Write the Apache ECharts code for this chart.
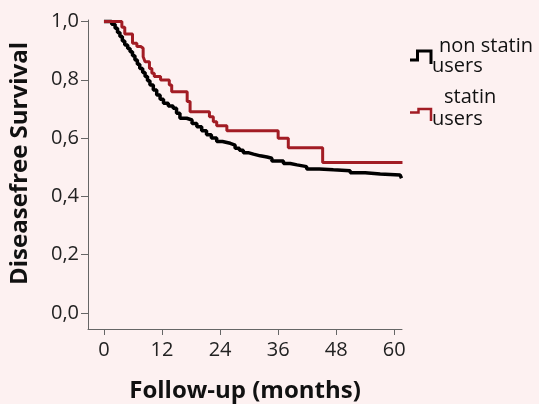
<!DOCTYPE html>
<html>
<head>
<meta charset="utf-8">
<script src="https://cdn.jsdelivr.net/npm/echarts@6/dist/echarts.min.js"></script>
<style>
html,body{margin:0;padding:0;background:#FDF1F1;}
#chart{width:539px;height:404px;}
</style>
</head>
<body>
<div id="chart"></div>
<script>
// Follow-up months tick labels
const xTicks = [0, 12, 24, 36, 48, 60];
const yTicks = [0, 0.2, 0.4, 0.6, 0.8, 1.0];

// Kaplan-Meier: non statin users [month, survival]
const nonStatinMonths = [0, 1.6, 2.3, 2.8, 3.3, 3.8, 4.3, 4.9, 5.4, 5.9, 6.4, 6.9, 7.4, 8.0, 8.5, 9.0, 9.5, 10.2, 10.9, 11.6, 12.3, 13.3, 14.3, 15.0, 15.7, 17.1, 18.2, 19.2, 20.2, 21.2, 22.2, 23.3, 24.5, 26.1, 27.1, 28.0, 28.8, 29.8, 30.9, 32.3, 33.7, 34.7, 37.1, 38.5, 39.9, 41.9, 44.5, 47.4, 50.9, 54.0, 57.1, 61.2, 61.5];
const nonStatinSurv = [1.0, 0.99, 0.977, 0.962, 0.948, 0.933, 0.919, 0.907, 0.896, 0.882, 0.868, 0.853, 0.839, 0.825, 0.811, 0.797, 0.782, 0.765, 0.748, 0.733, 0.719, 0.71, 0.702, 0.685, 0.668, 0.662, 0.65, 0.639, 0.625, 0.611, 0.6, 0.588, 0.582, 0.576, 0.565, 0.558, 0.55, 0.545, 0.539, 0.535, 0.531, 0.521, 0.513, 0.508, 0.502, 0.494, 0.491, 0.488, 0.481, 0.477, 0.473, 0.468, 0.462];

// Kaplan-Meier: statin users [month, survival]
const statinMonths = [0, 3.7, 4.3, 5.9, 6.8, 7.6, 8.1, 8.5, 9.4, 9.9, 10.4, 11.7, 13.5, 14.0, 17.2, 17.8, 21.8, 22.6, 23.3, 25.4, 36.0, 38.1, 45.2, 61.7];
const statinSurv = [1.0, 0.98, 0.957, 0.925, 0.914, 0.908, 0.879, 0.862, 0.839, 0.822, 0.811, 0.799, 0.782, 0.759, 0.725, 0.69, 0.673, 0.656, 0.642, 0.625, 0.599, 0.567, 0.516, 0.516];

const zip = (a, b) => a.map((v, i) => [v, b[i]]);
const FONT = '"Open Sans", sans-serif';

const chart = echarts.init(document.getElementById('chart'), null, {renderer: 'canvas'});
chart.setOption({
  backgroundColor: '#FDF1F1',
  animation: false,
  grid: {left: 88, right: 137, top: 20, bottom: 75, containLabel: false, outerBoundsMode: 'none'},
  xAxis: {
    type: 'value', min: -3.3, max: 61.6,
    name: 'Follow-up (months)', nameLocation: 'middle', nameGap: 50,
    nameTextStyle: {fontFamily: FONT, fontWeight: 'bold', fontSize: 24, color: '#111'},
    axisLine: {show: true, onZero: false, lineStyle: {color: '#666', width: 1}},
    axisTick: {show: true, length: 6, customValues: xTicks, lineStyle: {color: '#666'}},
    axisLabel: {customValues: xTicks, margin: 11, fontFamily: FONT, fontSize: 20, color: '#222'},
    splitLine: {show: false}
  },
  yAxis: {
    type: 'value', min: -0.055, max: 1.005,
    name: 'Diseasefree Survival', nameLocation: 'middle', nameGap: 56,
    nameTextStyle: {fontFamily: FONT, fontWeight: 'bold', fontSize: 24, color: '#111', padding: [0, 0, 0, 22]},
    axisLine: {show: true, onZero: false, lineStyle: {color: '#666', width: 1}},
    axisTick: {show: true, length: 7, customValues: yTicks, lineStyle: {color: '#666'}},
    axisLabel: {customValues: yTicks, margin: 9, fontFamily: FONT, fontSize: 20, color: '#222',
      formatter: v => v.toFixed(1).replace('.', ',')},
    splitLine: {show: false}
  },
  series: [
    {name: 'non statin users', type: 'line', step: 'end', showSymbol: false,
     data: zip(nonStatinMonths, nonStatinSurv), lineStyle: {color: '#000', width: 3.5}},
    {name: 'statin users', type: 'line', step: 'end', showSymbol: false,
     data: zip(statinMonths, statinSurv), lineStyle: {color: '#A21C24', width: 3}}
  ],
  graphic: [
    {type: 'polyline', shape: {points: [[410, 60], [417.5, 60], [417.5, 51], [431, 51], [431, 64]]},
     style: {stroke: '#000', lineWidth: 3, fill: null}},
    {type: 'polyline', shape: {points: [[410, 112.5], [418.5, 112.5], [418.5, 109], [431, 109], [431, 121]]},
     style: {stroke: '#A21C24', lineWidth: 2.5, fill: null}},
    {type: 'text', left: 439, top: 36, style: {text: 'non statin', fontFamily: FONT, fontSize: 20, fill: '#111'}},
    {type: 'text', left: 432, top: 56, style: {text: 'users', fontFamily: FONT, fontSize: 20, fill: '#111'}},
    {type: 'text', left: 444, top: 87, style: {text: 'statin', fontFamily: FONT, fontSize: 20, fill: '#111'}},
    {type: 'text', left: 432, top: 109, style: {text: 'users', fontFamily: FONT, fontSize: 20, fill: '#111'}}
  ]
});
</script>
</body>
</html>
